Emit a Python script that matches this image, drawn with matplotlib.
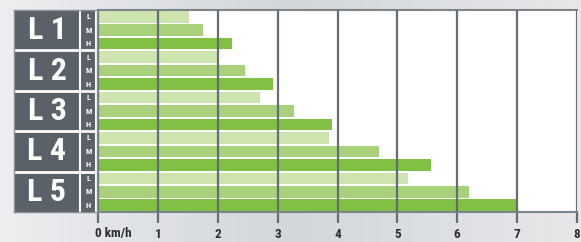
import numpy as np
import matplotlib
matplotlib.use("Agg")
import matplotlib.pyplot as plt
from matplotlib.colors import LinearSegmentedColormap

# ---- data ----
groups = ["L 1", "L 2", "L 3", "L 4", "L 5"]
levels = ["L", "M", "H"]
speed_L = [1.52, 1.98, 2.70, 3.85, 5.18]
speed_M = [1.75, 2.45, 3.27, 4.70, 6.20]
speed_H = [2.23, 2.93, 3.90, 5.56, 7.00]
ticks = [0, 1, 2, 3, 4, 5, 6, 7, 8]
tick_labels = ["0 km/h", "1", "2", "3", "4", "5", "6", "7", "8"]

FAM = ["Roboto Condensed", "Liberation Sans Narrow", "DejaVu Sans"]

W, H = 581, 242
fig = plt.figure(figsize=(W / 100, H / 100), dpi=100)

# background gradient
bg = fig.add_axes([0, 0, 1, 1])
cmap = LinearSegmentedColormap.from_list("bg", ["#eceef0", "#d3d6da", "#e6e8ea"])
bg.imshow(np.linspace(0, 1, 256)[None, :], aspect="auto", cmap=cmap, extent=[0, 1, 0, 1])
bg.set_xlim(0, 1); bg.set_ylim(0, 1)
bg.axis("off")

def fx(px):
    return px / W
def fy(py):
    return 1 - py / H

top_px, bot_px = 10, 212
x0_px, x8_px = 98, 577
ax = fig.add_axes([fx(x0_px), fy(bot_px), fx(x8_px) - fx(x0_px), (bot_px - top_px) / H])
ax.set_facecolor("white")

colors = {"L": "#cde4ae", "M": "#a9d17b", "H": "#80c042"}
series = {"L": speed_L, "M": speed_M, "H": speed_H}
for gi, g in enumerate(groups):
    for li, lv in enumerate(levels):
        row = gi * 3 + li
        ax.barh(row + 0.5, series[lv][gi], height=0.86, color=colors[lv], zorder=2, linewidth=0)

ax.set_xlim(0, 8)
ax.set_ylim(15, 0)
grid_c = "#656c73"
for t in ticks:
    ax.axvline(t, color=grid_c, lw=1.6, zorder=3)
ax.set_yticks([])
ax.set_xticks(ticks)
ax.set_xticklabels([])
ax.tick_params(axis="x", length=8, width=1.6, color=grid_c, direction="out")
for s in ["left", "right"]:
    ax.spines[s].set_visible(False)
ax.spines["top"].set_color("#7d848a")
ax.spines["top"].set_linewidth(1.5)
ax.spines["bottom"].set_color("#7d848a")
ax.spines["bottom"].set_linewidth(1.5)

# tick labels
for t, lab in zip(ticks, tick_labels):
    xpx = x0_px + (x8_px - x0_px) * t / 8
    ha = "center"
    if t == 0:
        xpx -= 3
        ha = "left"
    fig.text(fx(xpx), fy(234), lab, ha=ha, va="center", fontsize=9.5, fontweight="bold",
             color="#2a2d30", family=FAM)

# left panel
pan = fig.add_axes([fx(14), fy(bot_px), fx(97) - fx(14), (bot_px - top_px) / H])
pan.set_xlim(14, 97)
pan.set_ylim(15, 0)
pan.set_facecolor("#5a6169")
for s in pan.spines.values():
    s.set_color("#8a9096")
    s.set_linewidth(1.0)
pan.set_xticks([]); pan.set_yticks([])
pan.axvline(80.5, color="white", lw=1.5)
pan.axvline(96.3, color="white", lw=1.5)
for b in [3, 6, 9, 12]:
    pan.axhline(b, color="white", lw=2)
for gi, g in enumerate(groups):
    pan.text(47, gi * 3 + 1.5, g, ha="center", va="center", color="white",
             fontsize=23, fontweight="bold", family=FAM)
    for li, lv in enumerate(levels):
        pan.text(88.5, gi * 3 + li + 0.5, lv, ha="center", va="center", color="white",
                 fontsize=6, fontweight="bold", family=FAM)

fig.savefig("out.png", dpi=100)
